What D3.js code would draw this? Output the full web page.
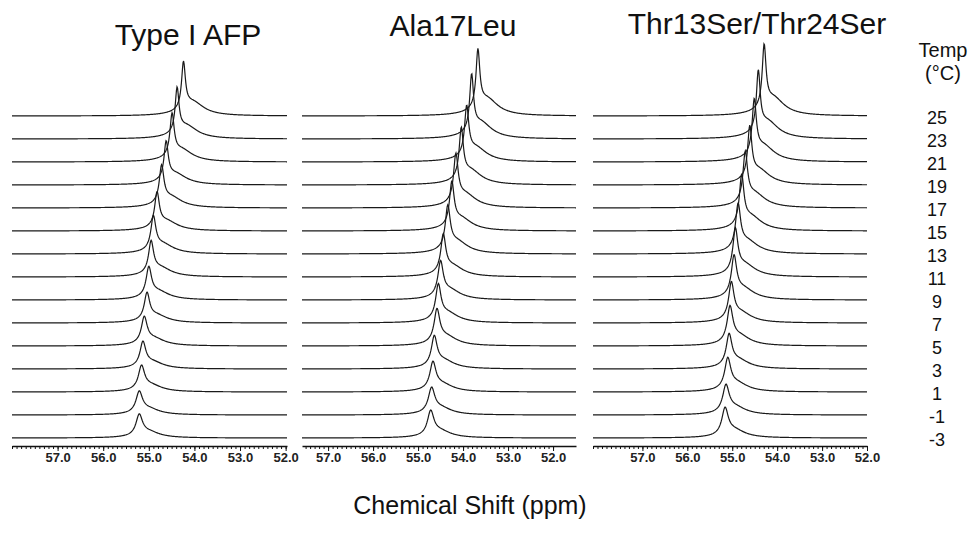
<!DOCTYPE html>
<html lang="en">
<head>
<meta charset="utf-8">
<title>Stacked spectra vs temperature</title>
<script src="https://cdn.jsdelivr.net/npm/d3@7/dist/d3.min.js"></script>
<style>
  body { margin: 0; background: #fff; }
  text { font-family: "Liberation Sans", Arial, Helvetica, sans-serif; fill: #111; }
  .trace { fill: none; stroke: #1a1a1a; stroke-width: 1.2; }
  .axis path, .axis line { stroke: #111; }
</style>
</head>
<body>
<script>

var w = 971;
var h = 549;

// temperatures, top trace to bottom trace
var temps = [25, 23, 21, 19, 17, 15, 13, 11, 9, 7, 5, 3, 1, -1, -3];
var panelTitles = ["Type I AFP", "Ala17Leu", "Thr13Ser/Thr24Ser"];
var tickValues = [57, 56, 55, 54, 53, 52];

// peak position (ppm)
var shiftAFP  = [54.24, 54.38, 54.49, 54.62, 54.72, 54.82, 54.90, 54.95, 55.00, 55.04, 55.10, 55.13, 55.16, 55.21, 55.21];
var shiftA17L = [53.67, 53.81, 53.92, 54.04, 54.16, 54.25, 54.34, 54.44, 54.50, 54.55, 54.58, 54.64, 54.67, 54.70, 54.72];
var shiftT13S = [54.29, 54.42, 54.51, 54.61, 54.71, 54.79, 54.87, 54.93, 54.96, 55.02, 55.05, 55.07, 55.10, 55.14, 55.16];

// peak intensity (arbitrary units)
var heightAFP  = [57, 54, 51, 46, 45, 41, 40, 38, 35, 32, 31, 29, 28, 25, 25];
var heightA17L = [70, 68, 59, 60, 57, 52, 51, 45, 41, 41, 39, 35, 32, 29, 29];
var heightT13S = [75, 72, 66, 62, 59, 59, 53, 51, 47, 43, 42, 37, 36, 32, 32];

// line width at half height (ppm)
var widthAll = [0.10, 0.10, 0.11, 0.11, 0.12, 0.12, 0.13, 0.13, 0.14, 0.14, 0.15, 0.15, 0.16, 0.17, 0.17];

var panels = [
  { title: panelTitles[0], shift: shiftAFP,  height: heightAFP,  domain: [58.0, 51.97], range: [12, 287],  titleX: 188, titleY: 45 },
  { title: panelTitles[1], shift: shiftA17L, height: heightA17L, domain: [57.58, 51.49], range: [302, 576], titleX: 453, titleY: 36 },
  { title: panelTitles[2], shift: shiftT13S, height: heightT13S, domain: [58.1, 52.0],  range: [593, 867], titleX: 757, titleY: 34 }
];

var svg = d3.select("body")
            .append("svg")
            .attr("width", w)
            .attr("height", h);

// baseline of each trace
var yBase = d3.scalePoint()
              .domain(temps)
              .range([116, 438]);

// intensity -> pixels
var yInt = d3.scaleLinear()
             .domain([0, 100])
             .range([0, 100]);

// lorentzian line with a broad shoulder on the upfield side
function lineShape(ppm, pos, amp, fw) {
  var g = fw / 2;
  var main = 1 / (1 + Math.pow((ppm - pos) / g, 2));
  var gb = 0.3;
  var broad = 1 / (1 + Math.pow((ppm - (pos - 0.2)) / gb, 2));
  return amp * (0.8 * main + 0.24 * broad);
}

panels.forEach(function(p) {
  var x = d3.scaleLinear()
            .domain(p.domain)
            .range(p.range);

  var g = svg.append("g");

  var samples = d3.range(0, 501).map(function(i) {
    return p.domain[0] + (p.domain[1] - p.domain[0]) * i / 500;
  });

  var line = d3.line()
               .x(function(d) { return x(d[0]); })
               .y(function(d) { return d[1]; });

  g.selectAll("path.trace")
   .data(temps)
   .enter()
   .append("path")
   .attr("class", "trace")
   .attr("d", function(t, i) {
     var pts = samples.map(function(s) {
       return [s, yBase(t) - yInt(lineShape(s, p.shift[i], p.height[i], widthAll[i]))];
     });
     return line(pts);
   });

  // minor ticks
  svg.append("g")
     .attr("class", "axis")
     .attr("transform", "translate(0,446)")
     .call(d3.axisBottom(x)
             .tickValues(d3.range(52, 58.11, 0.1).filter(function(v) {
               return v <= p.domain[0] && v >= p.domain[1];
             }))
             .tickSize(3)
             .tickSizeOuter(0)
             .tickFormat(""))
     .call(function(a) { a.select(".domain").attr("stroke-width", 1.5); });

  // major ticks and labels
  svg.append("g")
     .attr("class", "axis")
     .attr("transform", "translate(0,446)")
     .call(d3.axisBottom(x)
             .tickValues(tickValues)
             .tickSize(5)
             .tickSizeOuter(0)
             .tickFormat(d3.format(".1f")))
     .call(function(a) {
       a.select(".domain").remove();
       a.selectAll("text")
        .attr("dy", "0.6em")
        .style("font-size", "13px")
        .style("font-weight", "bold")
        .style("fill", "#222")
        .style("font-family", "'Liberation Sans', Arial, sans-serif");
     });

  svg.append("text")
     .attr("x", p.titleX)
     .attr("y", p.titleY)
     .attr("text-anchor", "middle")
     .style("font-size", "30px")
     .text(p.title);
});

// temperature labels
svg.append("text")
   .attr("x", 943)
   .attr("y", 57)
   .attr("text-anchor", "middle")
   .style("font-size", "20px")
   .text("Temp");

svg.append("text")
   .attr("x", 943)
   .attr("y", 80)
   .attr("text-anchor", "middle")
   .style("font-size", "20px")
   .text("(°C)");

svg.selectAll("text.temp")
   .data(temps)
   .enter()
   .append("text")
   .attr("class", "temp")
   .attr("x", 937)
   .attr("y", function(t) { return yBase(t) + 8; })
   .attr("text-anchor", "middle")
   .style("font-size", "18px")
   .text(function(t) { return t; });

svg.append("text")
   .attr("x", 470)
   .attr("y", 514)
   .attr("text-anchor", "middle")
   .style("font-size", "25px")
   .text("Chemical Shift (ppm)");

</script>
</body>
</html>
